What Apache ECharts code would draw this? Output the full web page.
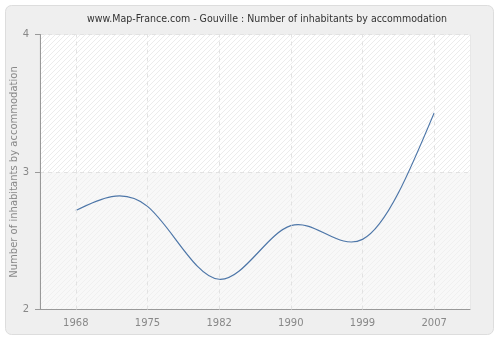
<!DOCTYPE html>
<html>
<head>
<meta charset="utf-8">
<script src="https://cdn.jsdelivr.net/npm/echarts@6/dist/echarts.min.js"></script>
<style>
html,body{margin:0;padding:0;background:#fff;}
#c{width:500px;height:340px;}
</style>
</head>
<body>
<div id="c"></div>
<script>
var categories = ['1968', '1975', '1982', '1990', '1999', '2007'];
var values = [2.72, 2.75, 2.22, 2.61, 2.51, 3.43];
var yTicks = [2, 3, 4];
var titleText = 'www.Map-France.com - Gouville : Number of inhabitants by accommodation';
var yName = 'Number of inhabitants by accommodation';

function hatch(bg, line) {
  var n = 5;
  var c = document.createElement('canvas');
  c.width = n; c.height = n;
  var g = c.getContext('2d');
  g.fillStyle = bg; g.fillRect(0, 0, n, n);
  g.fillStyle = line;
  for (var i = 0; i < n; i++) { g.fillRect(n - 1 - i, i, 1, 1); }
  return { image: c, repeat: 'repeat' };
}

// natural cubic spline through pixel points (uniform parameter), returned as SVG path
function splinePath(pts) {
  var n = pts.length;
  var M = new Array(n).fill(0);
  if (n > 2) {
    var m = n - 2, d = [];
    for (var i = 1; i <= m; i++) d.push(6 * (pts[i + 1][1] - 2 * pts[i][1] + pts[i - 1][1]));
    var cp = [], dp = [];
    for (var k = 0; k < m; k++) {
      var den = 4 - (k > 0 ? cp[k - 1] : 0);
      cp[k] = 1 / den;
      dp[k] = (d[k] - (k > 0 ? dp[k - 1] : 0)) / den;
    }
    var sol = [];
    for (var k2 = m - 1; k2 >= 0; k2--) sol[k2] = dp[k2] - cp[k2] * (k2 < m - 1 ? sol[k2 + 1] : 0);
    for (var j = 0; j < m; j++) M[j + 1] = sol[j];
  }
  var s = 'M' + pts[0][0] + ',' + pts[0][1];
  for (var q = 0; q < n - 1; q++) {
    var p0 = pts[q], p1 = pts[q + 1];
    var dy = p1[1] - p0[1];
    var d0 = dy - (2 * M[q] + M[q + 1]) / 6;
    var d1 = dy + (M[q] + 2 * M[q + 1]) / 6;
    var dx = p1[0] - p0[0];
    s += 'C' + (p0[0] + dx / 3) + ',' + (p0[1] + d0 / 3) + ',' +
         (p1[0] - dx / 3) + ',' + (p1[1] - d1 / 3) + ',' + p1[0] + ',' + p1[1];
  }
  return s;
}

var chart = echarts.init(document.getElementById('c'), null, { renderer: 'canvas' });
chart.setOption({
  animation: false,
  backgroundColor: '#ffffff',
  graphic: [{
    type: 'rect', z: -10,
    shape: { x: 5.5, y: 5.5, width: 488, height: 329, r: 6 },
    style: { fill: '#efefef', stroke: '#dddddd', lineWidth: 1 }
  }],
  title: {
    text: titleText, left: 262, top: 9, textAlign: 'center',
    textStyle: { fontFamily: 'DejaVu Sans Condensed, DejaVu Sans', fontSize: 10.5, fontWeight: 'normal', color: '#333333' }
  },
  grid: {
    left: 40, right: 30, top: 34.5, bottom: 30.5,
    outerBoundsMode: 'none', containLabel: false,
    show: true, backgroundColor: '#fafafa', borderColor: '#e0e0e0', borderWidth: 1
  },
  xAxis: {
    type: 'category', data: categories, boundaryGap: true,
    axisLine: { lineStyle: { color: '#999999' } },
    axisTick: { alignWithLabel: true, length: 5, lineStyle: { color: '#999999' } },
    axisLabel: { color: '#888888', fontFamily: 'DejaVu Sans', fontSize: 10, margin: 9 },
    splitLine: { show: false }
  },
  yAxis: {
    type: 'value', min: yTicks[0], max: yTicks[yTicks.length - 1], interval: 1,
    name: yName, nameLocation: 'middle', nameGap: 21, nameMoveOverlap: false,
    nameTextStyle: { color: '#888888', fontFamily: 'DejaVu Sans', fontSize: 10 },
    axisLine: { show: true, lineStyle: { color: '#999999' } },
    axisTick: { show: true, length: 5, lineStyle: { color: '#999999' } },
    axisLabel: { color: '#888888', fontFamily: 'DejaVu Sans', fontSize: 10, margin: 11 },
    splitLine: { show: true, lineStyle: { color: '#e2e2e2', type: [4, 4] } },
    splitArea: { show: true, areaStyle: { color: [hatch('#f8f8f8', '#f0f0f0'), hatch('#ffffff', '#ececec')] } }
  },
  series: [{
    type: 'line', data: values, symbol: 'none', lineStyle: { opacity: 0 },
    markLine: {
      silent: true, symbol: 'none', label: { show: false },
      lineStyle: { color: '#e2e2e2', type: [4, 4], width: 1 },
      data: categories.map(function (c) { return { xAxis: c }; })
    }
  }, {
    type: 'custom',
    data: values.map(function (v, i) { return [i, v]; }),
    encode: { x: 0, y: 1 },
    renderItem: function (params, api) {
      if (params.dataIndex !== 0) return null;
      var pts = values.map(function (v, i) { return api.coord([i, v]); });
      return {
        type: 'path',
        shape: { pathData: splinePath(pts) },
        style: { fill: null, stroke: '#4d76a8', lineWidth: 1.2 }
      };
    }
  }]
});
</script>
</body>
</html>
